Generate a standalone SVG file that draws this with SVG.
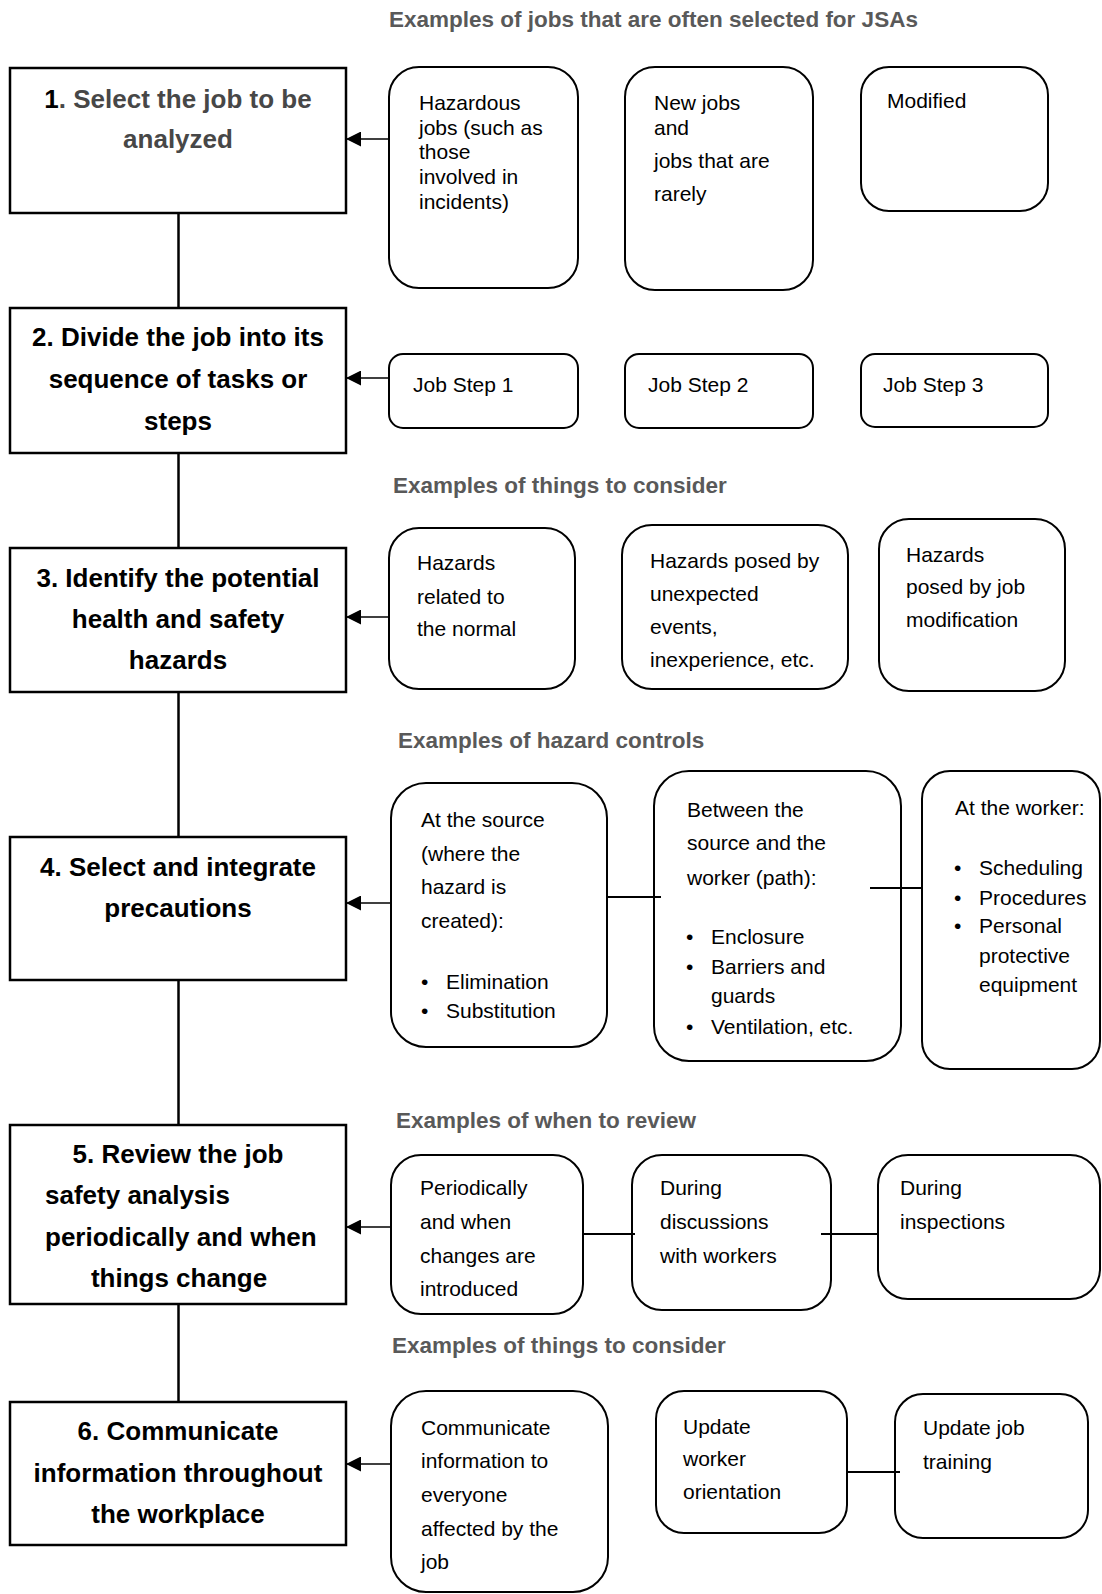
<svg xmlns="http://www.w3.org/2000/svg" width="1102" height="1594" viewBox="0 0 1102 1594">
<style>
  text { font-family: 'Liberation Sans', Arial, sans-serif; }
  .step { fill: #fff; stroke: #000; stroke-width: 2.5; }
  .ex { fill: #fff; stroke: #000; stroke-width: 2; }
  .lbl { font-size: 26px; font-weight: bold; fill: #000; text-anchor: middle; }
  .lbls { font-size: 26px; font-weight: bold; fill: #000; text-anchor: start; }
  .lblg { fill: #474747; }
  .ttl { font-size: 22.5px; font-weight: bold; fill: #595959; }
  .tx { font-size: 21px; fill: #000; }
  .spine { stroke: #000; stroke-width: 2.5; fill: none; }
  .arr { stroke: #000; stroke-width: 1.5; fill: none; marker-end: url(#ah); }
  .lnk { stroke: #000; stroke-width: 2; fill: none; }
</style>
<defs>
  <marker id="ah" markerUnits="userSpaceOnUse" markerWidth="15" markerHeight="15" refX="15" refY="7.5" orient="auto">
    <path d="M0,0 L15,7.5 L0,15 Z" fill="#000"/>
  </marker>
</defs>
<rect width="1102" height="1594" fill="#fff"/>

<!-- section titles -->
<g id="titles">
  <text class="ttl" x="389" y="27">Examples of jobs that are often selected for JSAs</text>
  <text class="ttl" x="393" y="493">Examples of things to consider</text>
  <text class="ttl" x="398" y="748">Examples of hazard controls</text>
  <text class="ttl" x="396" y="1128">Examples of when to review</text>
  <text class="ttl" x="392" y="1353">Examples of things to consider</text>
</g>

<!-- main steps -->
<g id="step1">
  <rect class="step" x="10" y="68" width="336" height="145"/>
  <text class="lbl" x="178" y="108"><tspan>1</tspan><tspan class="lblg">. Select the job to be</tspan></text>
  <text class="lbl lblg" x="178" y="148">analyzed</text>
</g>
<g id="step2">
  <rect class="step" x="10" y="308" width="336" height="145"/>
  <text class="lbl" x="178" y="346">2. Divide the job into its</text>
  <text class="lbl" x="178" y="388">sequence of tasks or</text>
  <text class="lbl" x="178" y="430">steps</text>
</g>
<g id="step3">
  <rect class="step" x="10" y="548" width="336" height="144"/>
  <text class="lbl" x="178" y="587">3. Identify the potential</text>
  <text class="lbl" x="178" y="628">health and safety</text>
  <text class="lbl" x="178" y="669">hazards</text>
</g>
<g id="step4">
  <rect class="step" x="10" y="837" width="336" height="143"/>
  <text class="lbl" x="178" y="876">4. Select and integrate</text>
  <text class="lbl" x="178" y="917">precautions</text>
</g>
<g id="step5">
  <rect class="step" x="10" y="1125" width="336" height="179"/>
  <text class="lbl" x="178" y="1163">5. Review the job</text>
  <text class="lbls" x="45" y="1204">safety analysis</text>
  <text class="lbls" x="45" y="1246">periodically and when</text>
  <text class="lbl" x="179" y="1287">things change</text>
</g>
<g id="step6">
  <rect class="step" x="10" y="1402" width="336" height="143"/>
  <text class="lbl" x="178" y="1440">6. Communicate</text>
  <text class="lbl" x="178" y="1482">information throughout</text>
  <text class="lbl" x="178" y="1523">the workplace</text>
</g>

<!-- row 1 examples -->
<g id="ex1a">
  <rect class="ex" x="389" y="67" width="189" height="221" rx="30"/>
  <text class="tx" x="419" y="110">Hazardous</text>
  <text class="tx" x="419" y="135">jobs (such as</text>
  <text class="tx" x="419" y="159">those</text>
  <text class="tx" x="419" y="184">involved in</text>
  <text class="tx" x="419" y="209">incidents)</text>
</g>
<g id="ex1b">
  <rect class="ex" x="625" y="67" width="188" height="223" rx="30"/>
  <text class="tx" x="654" y="110">New jobs</text>
  <text class="tx" x="654" y="135">and</text>
  <text class="tx" x="654" y="168">jobs that are</text>
  <text class="tx" x="654" y="201">rarely</text>
</g>
<g id="ex1c">
  <rect class="ex" x="861" y="67" width="187" height="144" rx="28"/>
  <text class="tx" x="887" y="108">Modified</text>
</g>

<!-- row 2 -->
<g id="ex2a">
  <rect class="ex" x="389" y="354" width="189" height="74" rx="14"/>
  <text class="tx" x="413" y="392">Job Step 1</text>
</g>
<g id="ex2b">
  <rect class="ex" x="625" y="354" width="188" height="74" rx="14"/>
  <text class="tx" x="648" y="392">Job Step 2</text>
</g>
<g id="ex2c">
  <rect class="ex" x="861" y="354" width="187" height="73" rx="14"/>
  <text class="tx" x="883" y="392">Job Step 3</text>
</g>

<!-- row 3 -->
<g id="ex3a">
  <rect class="ex" x="389" y="528" width="186" height="161" rx="30"/>
  <text class="tx" x="417" y="570">Hazards</text>
  <text class="tx" x="417" y="604">related to</text>
  <text class="tx" x="417" y="636">the normal</text>
</g>
<g id="ex3b">
  <rect class="ex" x="622" y="525" width="226" height="164" rx="30"/>
  <text class="tx" x="650" y="568">Hazards posed by</text>
  <text class="tx" x="650" y="601">unexpected</text>
  <text class="tx" x="650" y="634">events,</text>
  <text class="tx" x="650" y="667">inexperience, etc.</text>
</g>
<g id="ex3c">
  <rect class="ex" x="879" y="519" width="186" height="172" rx="30"/>
  <text class="tx" x="906" y="562">Hazards</text>
  <text class="tx" x="906" y="594">posed by job</text>
  <text class="tx" x="906" y="627">modification</text>
</g>

<!-- row 4 -->
<g id="ex4a">
  <rect class="ex" x="391" y="783" width="216" height="264" rx="35"/>
  <text class="tx" x="421" y="827">At the source</text>
  <text class="tx" x="421" y="861">(where the</text>
  <text class="tx" x="421" y="894">hazard is</text>
  <text class="tx" x="421" y="928">created):</text>
  <text class="tx" x="421" y="989">•</text><text class="tx" x="446" y="989">Elimination</text>
  <text class="tx" x="421" y="1018">•</text><text class="tx" x="446" y="1018">Substitution</text>
</g>
<g id="ex4b">
  <rect class="ex" x="654" y="771" width="247" height="290" rx="35"/>
  <text class="tx" x="687" y="817">Between the</text>
  <text class="tx" x="687" y="850">source and the</text>
  <text class="tx" x="687" y="885">worker (path):</text>
  <text class="tx" x="686" y="944">•</text><text class="tx" x="711" y="944">Enclosure</text>
  <text class="tx" x="686" y="974">•</text><text class="tx" x="711" y="974">Barriers and</text>
  <text class="tx" x="711" y="1003">guards</text>
  <text class="tx" x="686" y="1034">•</text><text class="tx" x="711" y="1034">Ventilation, etc.</text>
</g>
<g id="ex4c">
  <rect class="ex" x="922" y="771" width="178" height="298" rx="28"/>
  <text class="tx" x="955" y="815">At the worker:</text>
  <text class="tx" x="954" y="875">•</text><text class="tx" x="979" y="875">Scheduling</text>
  <text class="tx" x="954" y="905">•</text><text class="tx" x="979" y="905">Procedures</text>
  <text class="tx" x="954" y="933">•</text><text class="tx" x="979" y="933">Personal</text>
  <text class="tx" x="979" y="963">protective</text>
  <text class="tx" x="979" y="992">equipment</text>
</g>

<!-- row 5 -->
<g id="ex5a">
  <rect class="ex" x="391" y="1155" width="192" height="159" rx="30"/>
  <text class="tx" x="420" y="1195">Periodically</text>
  <text class="tx" x="420" y="1229">and when</text>
  <text class="tx" x="420" y="1263">changes are</text>
  <text class="tx" x="420" y="1296">introduced</text>
</g>
<g id="ex5b">
  <rect class="ex" x="632" y="1155" width="199" height="155" rx="30"/>
  <text class="tx" x="660" y="1195">During</text>
  <text class="tx" x="660" y="1229">discussions</text>
  <text class="tx" x="660" y="1263">with workers</text>
</g>
<g id="ex5c">
  <rect class="ex" x="878" y="1155" width="222" height="144" rx="30"/>
  <text class="tx" x="900" y="1195">During</text>
  <text class="tx" x="900" y="1229">inspections</text>
</g>

<!-- row 6 -->
<g id="ex6a">
  <rect class="ex" x="391" y="1391" width="217" height="201" rx="35"/>
  <text class="tx" x="421" y="1435">Communicate</text>
  <text class="tx" x="421" y="1468">information to</text>
  <text class="tx" x="421" y="1502">everyone</text>
  <text class="tx" x="421" y="1536">affected by the</text>
  <text class="tx" x="421" y="1569">job</text>
</g>
<g id="ex6b">
  <rect class="ex" x="656" y="1391" width="191" height="142" rx="28"/>
  <text class="tx" x="683" y="1434">Update</text>
  <text class="tx" x="683" y="1466">worker</text>
  <text class="tx" x="683" y="1499">orientation</text>
</g>
<g id="ex6c">
  <rect class="ex" x="895" y="1394" width="193" height="144" rx="28"/>
  <text class="tx" x="923" y="1435">Update job</text>
  <text class="tx" x="923" y="1469">training</text>
</g>

<!-- connectors -->
<g id="connectors">
  <line class="spine" x1="178.5" y1="213" x2="178.5" y2="308"/>
  <line class="spine" x1="178.5" y1="453" x2="178.5" y2="548"/>
  <line class="spine" x1="178.5" y1="692" x2="178.5" y2="837"/>
  <line class="spine" x1="178.5" y1="980" x2="178.5" y2="1125"/>
  <line class="spine" x1="178.5" y1="1304" x2="178.5" y2="1402"/>
  <line class="arr" x1="389" y1="139" x2="346" y2="139"/>
  <line class="arr" x1="389" y1="378" x2="346" y2="378"/>
  <line class="arr" x1="389" y1="617" x2="346" y2="617"/>
  <line class="arr" x1="391" y1="903" x2="346" y2="903"/>
  <line class="arr" x1="391" y1="1227" x2="346" y2="1227"/>
  <line class="arr" x1="391" y1="1464" x2="346" y2="1464"/>
  <line class="lnk" x1="607" y1="897" x2="661" y2="897"/>
  <line class="lnk" x1="870" y1="888" x2="922" y2="888"/>
  <line class="lnk" x1="583" y1="1234" x2="635" y2="1234"/>
  <line class="lnk" x1="821" y1="1234" x2="878" y2="1234"/>
  <line class="lnk" x1="847" y1="1472" x2="900" y2="1472"/>
</g>
</svg>
